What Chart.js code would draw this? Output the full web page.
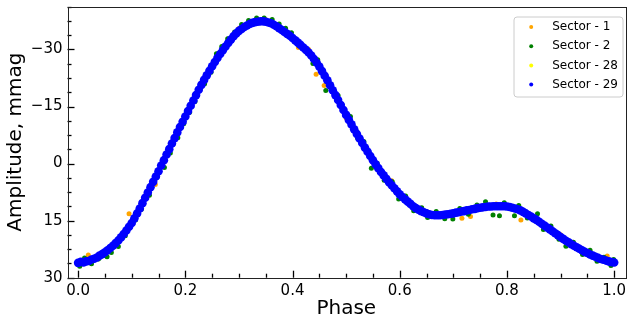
<!DOCTYPE html>
<html>
<head>
<meta charset="utf-8">
<script src="https://cdn.jsdelivr.net/npm/chart.js@4/dist/chart.umd.min.js"></script>
<style>
  html, body { margin: 0; padding: 0; background: #fff; }
  canvas { display: block; }
</style>
</head>
<body>
<canvas id="lc" width="634" height="327"></canvas>
<script>
// series names, in plotting order
var sectorNames = ["Sector - 1", "Sector - 2", "Sector - 28", "Sector - 29"];
var sectorColors = ["orange", "green", "yellow", "blue"];

var xTickValues = [0.0, 0.2, 0.4, 0.6, 0.8, 1.0];
var yTickValues = [-30, -15, 0, 15, 30];

// Sector 29 (blue) - the dense curve
var s29Phase = [
  0.000, 0.005, 0.010, 0.015, 0.020, 0.025, 0.030, 0.035, 0.040, 0.045,
  0.050, 0.055, 0.060, 0.065, 0.070, 0.075, 0.080, 0.085, 0.090, 0.095,
  0.100, 0.105, 0.110, 0.115, 0.120, 0.125, 0.130, 0.135, 0.140, 0.145,
  0.150, 0.155, 0.160, 0.165, 0.170, 0.175, 0.180, 0.185, 0.190, 0.195,
  0.200, 0.205, 0.210, 0.215, 0.220, 0.225, 0.230, 0.235, 0.240, 0.245,
  0.250, 0.255, 0.260, 0.265, 0.270, 0.275, 0.280, 0.285, 0.290, 0.295,
  0.300, 0.305, 0.310, 0.315, 0.320, 0.325, 0.330, 0.335, 0.340, 0.345,
  0.350, 0.355, 0.360, 0.365, 0.370, 0.375, 0.380, 0.385, 0.390, 0.395,
  0.400, 0.405, 0.410, 0.415, 0.420, 0.425, 0.430, 0.435, 0.440, 0.445,
  0.450, 0.455, 0.460, 0.465, 0.470, 0.475, 0.480, 0.485, 0.490, 0.495,
  0.500, 0.505, 0.510, 0.515, 0.520, 0.525, 0.530, 0.535, 0.540, 0.545,
  0.550, 0.555, 0.560, 0.565, 0.570, 0.575, 0.580, 0.585, 0.590, 0.595,
  0.600, 0.605, 0.610, 0.615, 0.620, 0.625, 0.630, 0.635, 0.640, 0.645,
  0.650, 0.655, 0.660, 0.665, 0.670, 0.675, 0.680, 0.685, 0.690, 0.695,
  0.700, 0.705, 0.710, 0.715, 0.720, 0.725, 0.730, 0.735, 0.740, 0.745,
  0.750, 0.755, 0.760, 0.765, 0.770, 0.775, 0.780, 0.785, 0.790, 0.795,
  0.800, 0.805, 0.810, 0.815, 0.820, 0.825, 0.830, 0.835, 0.840, 0.845,
  0.850, 0.855, 0.860, 0.865, 0.870, 0.875, 0.880, 0.885, 0.890, 0.895,
  0.900, 0.905, 0.910, 0.915, 0.920, 0.925, 0.930, 0.935, 0.940, 0.945,
  0.950, 0.955, 0.960, 0.965, 0.970, 0.975, 0.980, 0.985, 0.990, 0.995,
  1.000
];
var s29Amp = [
  26.1, 25.8, 26.0, 25.7, 25.6, 25.2, 25.0, 24.7, 24.2, 23.8,
  23.3, 22.8, 22.2, 21.6, 20.9, 20.2, 19.4, 18.5, 17.6, 16.6,
  15.6, 14.4, 13.1, 11.8, 10.4, 9.0, 7.6, 6.2, 4.8, 3.4,
  2.0, 0.5, -0.9, -2.4, -3.8, -5.3, -6.7, -8.2, -9.6, -11.0,
  -12.4, -13.8, -15.2, -16.6, -18.0, -19.4, -20.7, -22.0, -23.2, -24.4,
  -25.6, -26.7, -27.8, -28.8, -29.8, -30.8, -31.7, -32.6, -33.5, -34.2,
  -34.9, -35.4, -35.9, -36.3, -36.7, -37.0, -37.2, -37.3, -37.4, -37.4,
  -37.3, -37.1, -36.9, -36.5, -36.1, -35.6, -35.1, -34.6, -34.1, -33.6,
  -33.0, -32.4, -31.8, -31.2, -30.5, -29.9, -29.2, -28.4, -27.5, -26.5,
  -25.5, -24.3, -23.1, -21.9, -20.6, -19.3, -18.0, -16.7, -15.4, -14.1,
  -12.8, -11.5, -10.3, -9.0, -7.8, -6.6, -5.4, -4.2, -3.1, -2.0,
  -0.9, 0.2, 1.2, 2.2, 3.1, 4.0, 4.9, 5.7, 6.5, 7.3,
  8.1, 8.8, 9.4, 10.0, 10.6, 11.2, 11.7, 12.1, 12.5, 12.8,
  13.1, 13.3, 13.5, 13.6, 13.6, 13.6, 13.5, 13.4, 13.3, 13.2,
  13.1, 12.9, 12.8, 12.6, 12.5, 12.3, 12.2, 12.0, 11.9, 11.7,
  11.6, 11.5, 11.4, 11.3, 11.3, 11.2, 11.2, 11.2, 11.2, 11.2,
  11.3, 11.4, 11.6, 11.8, 12.0, 12.3, 12.7, 13.1, 13.5, 13.9,
  14.4, 14.8, 15.3, 15.8, 16.3, 16.8, 17.3, 17.8, 18.3, 18.8,
  19.3, 19.8, 20.3, 20.7, 21.2, 21.6, 22.0, 22.4, 22.8, 23.2,
  23.5, 23.9, 24.2, 24.5, 24.8, 25.1, 25.3, 25.5, 25.7, 25.9,
  26.0
];

// Sector 2 (green) - points showing along the edges of the band
var s2Phase = [
  0.003, 0.012, 0.025, 0.038, 0.054, 0.062, 0.075, 0.088, 0.107, 0.118,
  0.133, 0.148, 0.161, 0.172, 0.186, 0.197, 0.208, 0.218, 0.227, 0.236,
  0.248, 0.258, 0.268, 0.279, 0.292, 0.305, 0.318, 0.333, 0.347, 0.362,
  0.375, 0.387, 0.398, 0.412, 0.425, 0.438, 0.447, 0.462, 0.473, 0.485,
  0.497, 0.508, 0.521, 0.533, 0.547, 0.558, 0.571, 0.586, 0.598, 0.611,
  0.626, 0.641, 0.652, 0.668, 0.684, 0.699, 0.712, 0.728, 0.744, 0.760,
  0.774, 0.786, 0.795, 0.814, 0.822, 0.838, 0.857, 0.868, 0.882, 0.897,
  0.910, 0.924, 0.941, 0.955, 0.968, 0.981, 0.994, 0.999
];
var s2Amp = [
  27.0, 24.8, 26.3, 25.1, 24.5, 23.4, 21.8, 19.0, 14.8, 12.0,
  8.3, 3.4, 1.0, -2.8, -6.8, -10.5, -13.5, -16.3, -19.9, -21.0,
  -24.0, -28.9, -30.8, -32.8, -34.6, -36.6, -37.6, -38.3, -38.3, -37.9,
  -36.7, -35.6, -34.4, -31.0, -30.2, -26.3, -27.3, -19.2, -19.4, -17.9,
  -13.0, -12.4, -6.8, -5.8, 1.2, 0.0, 4.4, 4.8, 9.3, 8.5,
  12.4, 11.6, 14.2, 12.6, 14.5, 14.6, 11.8, 13.3, 10.9, 10.0,
  13.5, 13.7, 10.3, 13.7, 11.0, 14.3, 13.2, 17.3, 16.4, 19.9,
  21.7, 20.7, 23.9, 22.8, 25.7, 24.6, 26.8, 25.2
];

// Sector 1 (orange)
var s1Phase = [
  0.019, 0.050, 0.095, 0.144, 0.200, 0.300, 0.350, 0.411, 0.430, 0.444,
  0.459, 0.500, 0.585, 0.650, 0.716, 0.732, 0.780, 0.826, 0.900, 0.987
];
var s1Amp = [
  24.0, 23.0, 13.2, 5.5, -12.8, -35.5, -37.8, -30.5, -30.0, -23.5,
  -20.5, -12.0, 4.5, 12.6, 14.4, 13.9, 10.6, 14.8, 18.7, 24.3
];

// Sector 28 (yellow) - hidden under the other sectors
var s28Phase = [0.10, 0.25, 0.40, 0.60, 0.80, 0.95];
var s28Amp = [15.6, -25.6, -33.0, 8.1, 11.3, 23.5];

var FONT = "'DejaVu Sans', sans-serif";

function toPoints(px, py) {
  var out = [];
  for (var i = 0; i < px.length; i++) out.push({ x: px[i], y: py[i] });
  return out;
}

function minusLabel(v) {
  return v < 0 ? "\u2212" + Math.abs(v) : String(v);
}

// inward ticks, full frame and the legend box (matplotlib look)
var frameAndTicks = {
  id: "frameAndTicks",
  afterDraw: function(chart) {
    var ctx = chart.ctx;
    var a = chart.chartArea;
    var xs = chart.scales.x, ys = chart.scales.y;
    ctx.save();
    ctx.strokeStyle = "#000";
    ctx.lineWidth = 1.3;
    // x ticks
    var i, v, p;
    for (i = 0; i <= 20; i++) {
      v = i * 0.05;
      p = Math.round(xs.getPixelForValue(v)) + 0.5;
      ctx.beginPath();
      ctx.moveTo(p, a.bottom);
      ctx.lineTo(p, a.bottom - (i % 4 === 0 ? 7 : 4));
      ctx.stroke();
    }
    // y ticks
    for (i = -11; i <= 8; i++) {
      v = i * 3.75;
      if (v < ys.min || v > ys.max) continue;
      p = Math.round(ys.getPixelForValue(v)) + 0.5;
      ctx.beginPath();
      ctx.moveTo(a.left, p);
      ctx.lineTo(a.left + (i % 4 === 0 ? 7 : 4), p);
      ctx.stroke();
    }
    // frame
    ctx.lineWidth = 1;
    ctx.strokeStyle = "#222";
    ctx.strokeRect(Math.round(a.left) + 0.5, Math.round(a.top) + 0.5,
      Math.round(a.right - a.left), Math.round(a.bottom - a.top));

    // legend
    var bw = 109, bh = 80;
    var bx = a.right - 2.5 - bw, by = a.top + 10;
    ctx.beginPath();
    if (ctx.roundRect) ctx.roundRect(bx + 0.5, by + 0.5, bw, bh, 3);
    else ctx.rect(bx + 0.5, by + 0.5, bw, bh);
    ctx.fillStyle = "rgba(255,255,255,0.8)";
    ctx.fill();
    ctx.strokeStyle = "#cccccc";
    ctx.stroke();
    ctx.font = "12px " + FONT;
    ctx.textBaseline = "middle";
    ctx.textAlign = "left";
    for (i = 0; i < sectorNames.length; i++) {
      var cy = by + 10.5 + i * 19.2;
      ctx.beginPath();
      ctx.arc(bx + 17.7, cy, 2, 0, Math.PI * 2);
      ctx.fillStyle = sectorColors[i];
      ctx.fill();
      ctx.fillStyle = "#000";
      ctx.fillText(sectorNames[i], bx + 38.7, cy);
    }
    ctx.restore();
  }
};

var sets = [
  { label: sectorNames[0], data: toPoints(s1Phase, s1Amp), color: sectorColors[0], r: 2.5, order: 3 },
  { label: sectorNames[1], data: toPoints(s2Phase, s2Amp), color: sectorColors[1], r: 2.5, order: 2 },
  { label: sectorNames[2], data: toPoints(s28Phase, s28Amp), color: sectorColors[2], r: 2.5, order: 1 },
  { label: sectorNames[3], data: toPoints(s29Phase, s29Amp), color: sectorColors[3], r: 4.3, order: 0 }
].map(function(s) {
  return {
    label: s.label,
    data: s.data,
    order: s.order,
    backgroundColor: s.color,
    borderColor: s.color,
    borderWidth: 0,
    pointRadius: s.r,
    pointHoverRadius: s.r
  };
});

new Chart(document.getElementById("lc"), {
  type: "scatter",
  data: { datasets: sets },
  options: {
    responsive: false,
    animation: false,
    events: [],
    layout: { padding: { top: 6.5, right: 9, left: 0, bottom: 0 } },
    plugins: {
      legend: { display: false },
      tooltip: { enabled: false }
    },
    scales: {
      x: {
        type: "linear",
        min: -0.0198,
        max: 1.0202,
        grid: { display: false, drawTicks: false },
        border: { display: false },
        afterBuildTicks: function(s) {
          s.ticks = xTickValues.map(function(v) { return { value: v }; });
        },
        afterFit: function(s) {
          s.height = 49.3;
          s.paddingLeft = 0;
          s.paddingRight = 0;
          s.paddingTop = 0;
          s.paddingBottom = 0;
        },
        ticks: {
          padding: 4,
          color: "#000",
          maxRotation: 0,
          autoSkip: false,
          font: { family: FONT, size: 15 },
          callback: function(v) { return Number(v).toFixed(1); }
        },
        title: {
          display: true,
          text: "Phase",
          color: "#000",
          font: { family: FONT, size: 20 },
          padding: { top: 6, bottom: 6 }
        }
      },
      y: {
        type: "linear",
        reverse: true,
        min: -41.3,
        max: 30,
        grid: { display: false, drawTicks: false },
        border: { display: false },
        afterBuildTicks: function(s) {
          s.ticks = yTickValues.map(function(v) { return { value: v }; });
        },
        afterFit: function(s) {
          s.width = 67.5;
          s.paddingLeft = 0;
          s.paddingRight = 0;
          s.paddingTop = 0;
          s.paddingBottom = 0;
        },
        ticks: {
          padding: 5,
          color: "#000",
          autoSkip: false,
          font: { family: FONT, size: 15 },
          callback: function(v) { return minusLabel(v); }
        },
        title: {
          display: true,
          text: "Amplitude, mmag",
          color: "#000",
          font: { family: FONT, size: 20 },
          padding: { top: 4, bottom: 4 }
        }
      }
    }
  },
  plugins: [frameAndTicks]
});
</script>
</body>
</html>
